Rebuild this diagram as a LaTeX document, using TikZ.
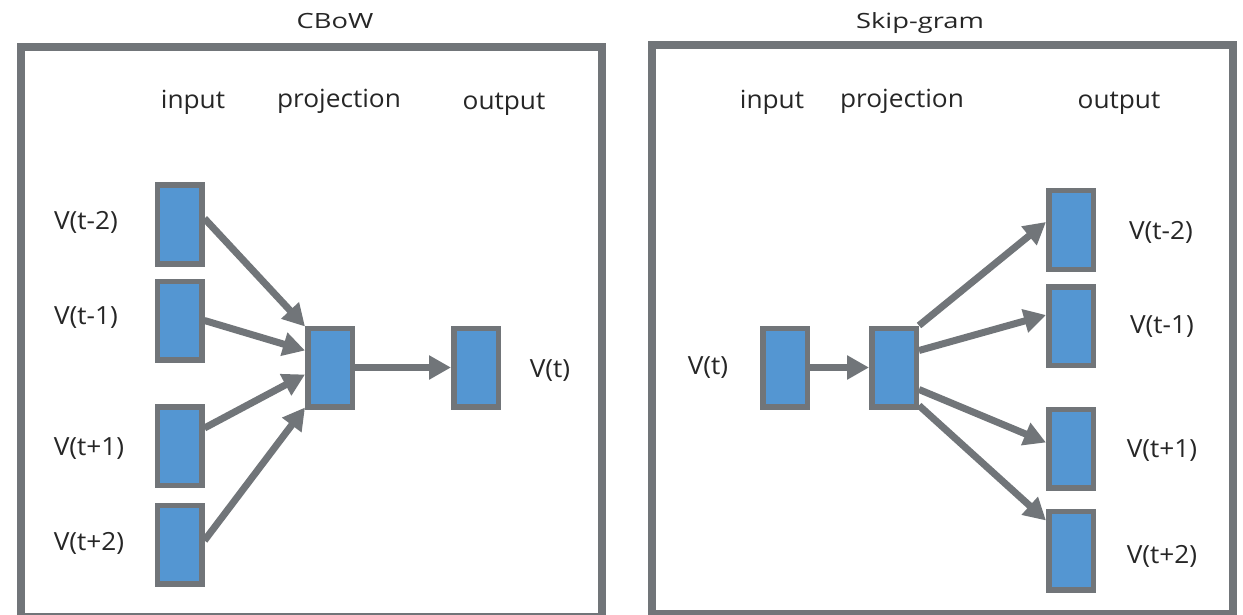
\documentclass[tikz,border=0pt]{standalone}
\usepackage{fontspec}
\setmainfont{Open Sans}
\newfontfamily\lblfont[FakeStretch=1.05]{Open Sans}
\newfontfamily\ttlfont[FakeStretch=1.3]{Open Sans}
\usetikzlibrary{arrows.meta}
\definecolor{framegray}{HTML}{717579}
\definecolor{boxblue}{HTML}{5496D2}
\begin{document}
\begin{tikzpicture}[x=1pt,y=-1pt,
  vecbox/.style={rectangle,draw=framegray,fill=boxblue,line width=5.5pt,
    minimum width=44.5pt,minimum height=78.5pt,inner sep=0pt},
  lbl/.style={font=\lblfont\fontsize{25}{30}\selectfont,inner sep=0pt,text=black!85},
  hdr/.style={font=\lblfont\fontsize{25}{30}\selectfont,inner sep=0pt,anchor=base,text=black!85},
  ttl/.style={font=\ttlfont\fontsize{21}{25}\selectfont,inner sep=0pt,anchor=base,text=black!85},
  panel/.style={draw=framegray,line width=8pt},
  conn/.style={draw=framegray,line width=7pt,-{Triangle[length=22pt,width=23pt]}}]
\useasboundingbox (0,0) rectangle (1243,615);
\fill[white] (0,0) rectangle (1243,615);
% panels
\draw[panel] (21,47) rectangle (602,617);
\draw[panel] (652,45.5) rectangle (1233,614);
% titles
\node[ttl] (tcbow) at (335,29) {CBoW};
\node[ttl] (tskip) at (920,29) {Skip-gram};
% headers left
\node[hdr] (hinL) at (193,109) {input};
\node[hdr] (hprL) at (339,108) {projection};
\node[hdr] (houL) at (504,110) {output};
% headers right
\node[hdr] (hinR) at (772,109) {input};
\node[hdr] (hprR) at (902,108) {projection};
\node[hdr] (houR) at (1119,109) {output};
% CBoW boxes
\node[vecbox] (i1) at (179.5,224.5) {};
\node[vecbox] (i2) at (179.5,320.5) {};
\node[vecbox] (i3) at (179.5,446) {};
\node[vecbox] (i4) at (179.5,544.5) {};
\node[vecbox] (pL) at (330,367.5) {};
\node[vecbox] (oL) at (476,367.5) {};
% CBoW labels
\node[lbl] (li1) at (86,222) {V(t-2)};
\node[lbl] (li2) at (86,318) {V(t-1)};
\node[lbl] (li3) at (89,449) {V(t+1)};
\node[lbl] (li4) at (89,543) {V(t+2)};
\node[lbl] (loL) at (550,371) {V(t)};
% CBoW arrows
\draw[conn] ([yshift=6pt]i1.east) -- ([yshift=-1pt]pL.north west);
\draw[conn] (i2.east) -- ([yshift=17pt]pL.west);
\draw[conn] ([yshift=18pt]i3.east) -- ([yshift=-7pt]pL.west);
\draw[conn] ([yshift=4pt]i4.east) -- ([yshift=2pt]pL.south west);
\draw[conn] (pL.east) -- (oL.west);
% Skip-gram boxes
\node[vecbox] (iR) at (785,367.5) {};
\node[vecbox] (pR) at (894,367.5) {};
\node[vecbox] (o1) at (1071,230) {};
\node[vecbox] (o2) at (1071,326) {};
\node[vecbox] (o3) at (1071,448.5) {};
\node[vecbox] (o4) at (1071,550.5) {};
% Skip-gram labels
\node[lbl] (liR) at (708,368) {V(t)};
\node[lbl] (lo1) at (1161,232) {V(t-2)};
\node[lbl] (lo2) at (1162,327) {V(t-1)};
\node[lbl] (lo3) at (1162,451) {V(t+1)};
\node[lbl] (lo4) at (1162,556) {V(t+2)};
% Skip-gram arrows
\draw[conn] (iR.east) -- (pR.west);
\draw[conn] (pR.north east) -- ([yshift=8pt]o1.west);
\draw[conn] ([yshift=17pt]pR.east) -- ([yshift=11pt]o2.west);
\draw[conn] ([yshift=-22pt]pR.east) -- ([yshift=6pt]o3.west);
\draw[conn] ([yshift=4pt]pR.south east) -- ([yshift=30pt]o4.west);
\end{tikzpicture}
\end{document}
